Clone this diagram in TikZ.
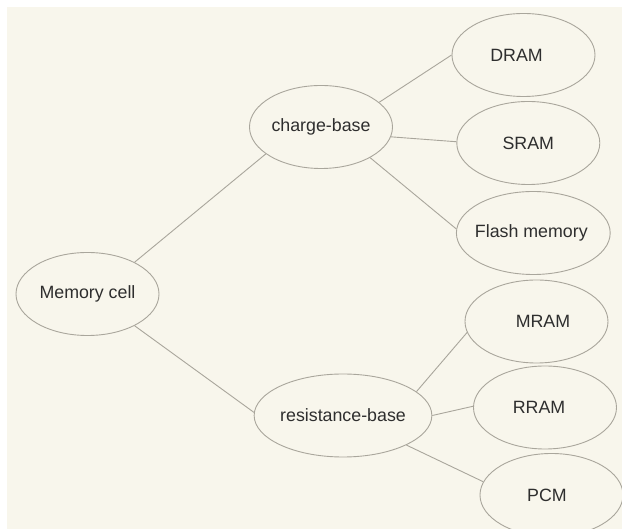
\documentclass[tikz,border=0pt]{standalone}
\usepackage{fontspec}
\setmainfont{Liberation Sans}
\usetikzlibrary{shapes.geometric}
\definecolor{bgcream}{HTML}{F8F6EC}
\definecolor{edgegray}{HTML}{A9A69C}
\definecolor{txtgray}{HTML}{2E2E2E}
\begin{document}
\begin{tikzpicture}[x=1pt,y=-1pt,
  cell/.style={ellipse,draw=edgegray,line width=0.9pt,minimum width=143pt,minimum height=83pt,
    inner sep=0pt,text=txtgray,font=\fontsize{17.8}{20}\selectfont},
  link/.style={draw=edgegray,line width=0.9pt}]
\useasboundingbox (0,0) rectangle (622,529);
\fill[bgcream] (7,7.5) rectangle (622,529);
\node[cell] (mc) at (87.5,294) {\raisebox{-1pt}{Memory cell}};
\node[cell] (cb) at (321,127) {\raisebox{-1pt}{charge-base}};
\node[cell] (rb) at (343,415.5) {\raisebox{-1pt}{resistance-base}};
\node[cell] (dram) at (523.5,55) {\hspace*{-14pt}DRAM};
\node[cell] (sram) at (528.3,143) {\raisebox{-2pt}{SRAM}};
\node[cell] (flash) at (533.3,233) {\raisebox{-2pt}{\hspace*{-4pt}Flash memory}};
\node[cell] (mram) at (536.5,321.5) {\raisebox{-1.5pt}{\hspace*{13pt}MRAM}};
\node[cell] (rram) at (545,407.5) {\raisebox{-4.5pt}{\hspace*{-12pt}RRAM}};
\node[cell] (pcm) at (551.5,495) {\hspace*{-9pt}PCM};
\draw[link] (mc.34) -- (cb.206.6);
\draw[link] (mc.-34.9) -- (rb.178.2);
\draw[link] (cb.23.2) -- (dram.180);
\draw[link] (cb.-8.3) -- (sram.179);
\draw[link] (cb.-32.9) -- (flash.177.6);
\draw[link] (rb.18.3) -- (mram.189.3);
\draw[link] (rb.0) -- (rram.179.4);
\draw[link] (rb.-25.5) -- (pcm.169);
\end{tikzpicture}
\end{document}
